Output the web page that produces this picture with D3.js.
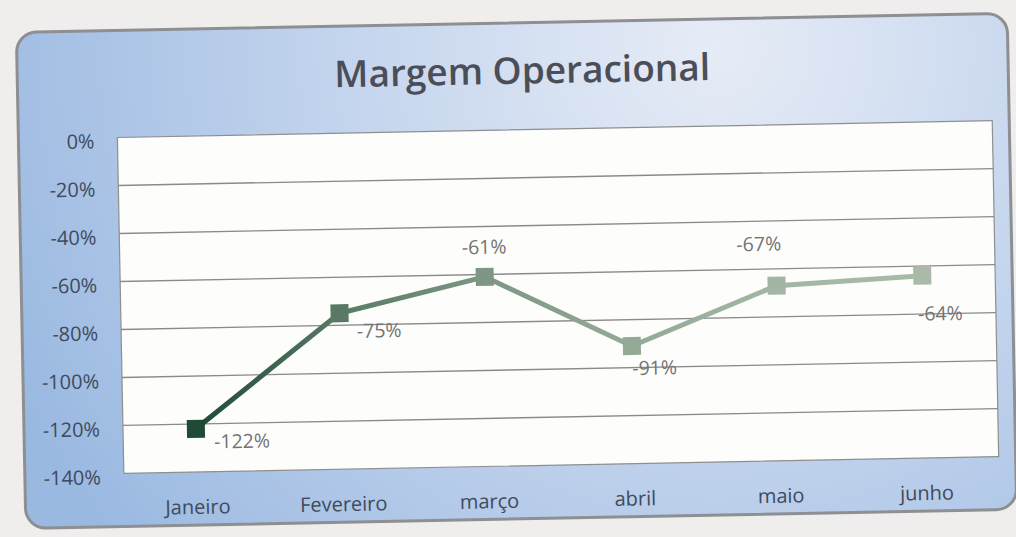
<!DOCTYPE html>
<html lang="pt">
<head>
<meta charset="utf-8">
<title>Margem Operacional</title>
<script src="https://cdn.jsdelivr.net/npm/d3@7"></script>
<style>
  html, body { margin: 0; padding: 0; background: #efeeec; }
  svg { display: block; }
  .axis text { font-family: "Open Sans", sans-serif; font-size: 20px; fill: #3f4a5d; }
  .axis path, .axis line { display: none; }
</style>
</head>
<body>
<script>
// data
var months = ["Janeiro", "Fevereiro", "março", "abril", "maio", "junho"];
var margin = [-122, -75, -61, -91, -67, -64];
var yTicks = [0, -20, -40, -60, -80, -100, -120, -140];
var pointColors = ["#1f4a36", "#587a65", "#7d9784", "#93aa97", "#a2b6a3", "#a9bba8"];

// label offsets from each marker: [dx, dy, anchor]
var labelPos = [[18, 20, "start"], [17, 25, "start"], [0, -23, "middle"],
                [0, 29, "start"], [-17, -35, "middle"], [-5, 45, "start"]];

var w = 1016, h = 537;
var plot = {left: 120, right: 995, top: 130, bottom: 466};

var svg = d3.select("body").append("svg")
    .attr("width", w)
    .attr("height", h);

var defs = svg.append("defs");
var bg = defs.append("radialGradient")
    .attr("id", "cardFill")
    .attr("gradientUnits", "userSpaceOnUse")
    .attr("cx", 720).attr("cy", 50).attr("r", 780);
bg.append("stop").attr("offset", "0%").attr("stop-color", "#e6ecf6");
bg.append("stop").attr("offset", "45%").attr("stop-color", "#c6d6ee");
bg.append("stop").attr("offset", "100%").attr("stop-color", "#9ab9e1");

var xScale = d3.scalePoint()
    .domain(months)
    .range([plot.left, plot.right])
    .padding(0.5);

var yScale = d3.scaleLinear()
    .domain([-140, 0])
    .range([plot.bottom, plot.top]);

var lineGrad = defs.append("linearGradient")
    .attr("id", "lineFill")
    .attr("gradientUnits", "userSpaceOnUse")
    .attr("x1", xScale(months[0])).attr("x2", xScale(months[months.length - 1]))
    .attr("y1", 0).attr("y2", 0);
pointColors.forEach(function(c, i) {
    lineGrad.append("stop")
        .attr("offset", (i / (pointColors.length - 1) * 100) + "%")
        .attr("stop-color", c);
});

// the photo is slightly tilted
var g = svg.append("g").attr("transform", "rotate(-1.1, 508, 270)");

g.append("rect")
    .attr("x", 21).attr("y", 23)
    .attr("width", 991).attr("height", 496)
    .attr("rx", 20).attr("ry", 20)
    .attr("fill", "url(#cardFill)")
    .attr("stroke", "#8d8f93")
    .attr("stroke-width", 3);

g.append("text")
    .attr("x", 526).attr("y", 84)
    .attr("text-anchor", "middle")
    .attr("font-family", "Open Sans, sans-serif")
    .attr("font-weight", 600)
    .attr("font-size", 37)
    .attr("fill", "#4b4e57")
    .text("Margem Operacional");

g.append("rect")
    .attr("x", plot.left).attr("y", plot.top)
    .attr("width", plot.right - plot.left)
    .attr("height", plot.bottom - plot.top)
    .attr("fill", "#fdfdfc")
    .attr("stroke", "#8e8f8f")
    .attr("stroke-width", 1.2);

g.selectAll(".grid")
    .data(yTicks.slice(1, -1))
    .enter().append("line")
    .attr("class", "grid")
    .attr("x1", plot.left).attr("x2", plot.right)
    .attr("y1", function(d) { return yScale(d); })
    .attr("y2", function(d) { return yScale(d); })
    .attr("stroke", "#8a8a8a")
    .attr("stroke-width", 1.4);

var yAxis = d3.axisLeft(yScale)
    .tickValues(yTicks)
    .tickSize(0)
    .tickPadding(0)
    .tickFormat(function(d) { return d + "%"; });
g.append("g")
    .attr("class", "axis")
    .attr("transform", "translate(97,3)")
    .call(yAxis)
    .selectAll("text").attr("dy", "0.35em");

var xAxis = d3.axisBottom(xScale).tickSize(0).tickPadding(0);
g.append("g")
    .attr("class", "axis")
    .attr("transform", "translate(0," + (plot.bottom + 42) + ")")
    .call(xAxis)
    .selectAll("text").attr("dy", 0);

var line = d3.line()
    .x(function(d, i) { return xScale(months[i]); })
    .y(function(d) { return yScale(d); });

g.append("path")
    .datum(margin)
    .attr("d", line)
    .attr("fill", "none")
    .attr("stroke", "url(#lineFill)")
    .attr("stroke-width", 5)
    .attr("stroke-linejoin", "round");

g.selectAll(".marker")
    .data(margin)
    .enter().append("rect")
    .attr("class", "marker")
    .attr("x", function(d, i) { return xScale(months[i]) - 9; })
    .attr("y", function(d) { return yScale(d) - 9; })
    .attr("width", 18).attr("height", 18)
    .attr("fill", function(d, i) { return pointColors[i]; });

g.selectAll(".label")
    .data(margin)
    .enter().append("text")
    .attr("class", "label")
    .attr("x", function(d, i) { return xScale(months[i]) + labelPos[i][0]; })
    .attr("y", function(d, i) { return yScale(d) + labelPos[i][1]; })
    .attr("text-anchor", function(d, i) { return labelPos[i][2]; })
    .attr("font-family", "Open Sans, sans-serif")
    .attr("font-size", 19.5)
    .attr("fill", "#727473")
    .text(function(d) { return d + "%"; });
</script>
</body>
</html>
